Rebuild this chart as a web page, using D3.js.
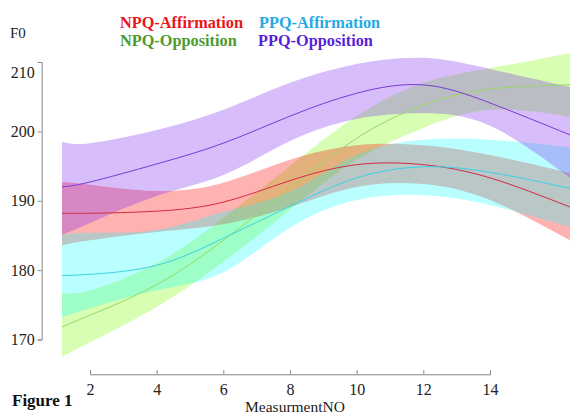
<!DOCTYPE html>
<html lang="en">
<head>
  <meta charset="UTF-8">
  <title>F0 by MeasurmentNO</title>
  <script src="https://d3js.org/d3.v7.min.js"></script>
  <style>
    body { margin: 0; background: #fff; }
    text { font-family: "Liberation Serif", "DejaVu Serif", serif; }
  </style>
</head>
<body>
  <svg id="chart" width="570" height="416"></svg>

  <script>
    const measurementNo = [1.16, 2, 4, 6, 8, 10, 12, 14, 16.4];

    const npqAffFit   = [188.2, 188.2, 188.5, 189.8, 192.9, 195.2, 195.2, 193.3, 189.1];
    const npqAffUpper = [192.7, 192.3, 191.4, 192.6, 195.9, 198.0, 198.0, 196.6, 194.0];
    const npqAffLower = [183.6, 184.3, 185.5, 186.6, 189.1, 192.0, 192.4, 190.1, 184.3];

    const ppqAffFit   = [179.2, 179.4, 180.7, 184.6, 189.2, 193.3, 194.9, 194.1, 191.8];
    const ppqAffUpper = [185.1, 185.4, 185.8, 188.4, 191.3, 196.6, 198.8, 198.8, 197.7];
    const ppqAffLower = [173.2, 174.5, 177.1, 179.7, 186.1, 190.1, 190.8, 189.4, 186.2];

    const npqOppFit   = [171.8, 173.5, 177.9, 184.3, 191.8, 199.0, 203.8, 206.1, 206.7];
    const npqOppUpper = [176.7, 177.1, 181.0, 187.5, 195.0, 202.2, 207.0, 209.1, 211.3];
    const npqOppLower = [167.5, 169.6, 174.7, 181.2, 188.7, 195.9, 200.5, 203.1, 202.1];

    const ppqOppFit   = [192.0, 192.7, 195.3, 198.3, 202.2, 205.5, 206.7, 204.1, 199.5];
    const ppqOppUpper = [198.5, 198.3, 200.2, 203.1, 207.0, 209.7, 210.6, 209.0, 206.4];
    const ppqOppLower = [185.1, 186.8, 190.7, 193.7, 198.6, 201.8, 202.6, 200.8, 193.3];

    const xTicks = [2, 4, 6, 8, 10, 12, 14];
    const yTicks = [170, 180, 190, 200, 210];

    const svg = d3.select("#chart");

    const x = d3.scaleLinear().domain([2, 14]).range([90, 490]);
    const y = d3.scaleLinear().domain([170, 210]).range([339.5, 62]);

    // drawing order matters for the overlap colours
    const series = [
      { name: "NPQ-Opposition",  fit: npqOppFit, upper: npqOppUpper, lower: npqOppLower,
        band: "#7cfc00", bandOp: 0.3, line: "#96d865", text: "#4d9a2e" },
      { name: "NPQ-Affirmation", fit: npqAffFit, upper: npqAffUpper, lower: npqAffLower,
        band: "#ff0000", bandOp: 0.3, line: "#d42a40", text: "#e8151b" },
      { name: "PPQ-Affirmation", fit: ppqAffFit, upper: ppqAffUpper, lower: ppqAffLower,
        band: "#00ffff", bandOp: 0.27, line: "#3fd0e2", text: "#27a9e1" },
      { name: "PPQ-Opposition",  fit: ppqOppFit, upper: ppqOppUpper, lower: ppqOppLower,
        band: "#7a27ee", bandOp: 0.3, line: "#7a3ad6", text: "#5a1fd8" }
    ];

    const area = d3.area()
      .x(d => x(d.x))
      .y0(d => y(d.lo))
      .y1(d => y(d.hi))
      .curve(d3.curveNatural);

    const line = d3.line()
      .x(d => x(d.x))
      .y(d => y(d.v))
      .curve(d3.curveNatural);

    series.forEach(s => {
      const pts = measurementNo.map((m, i) => ({ x: m, lo: s.lower[i], hi: s.upper[i], v: s.fit[i] }));
      svg.append("path")
        .attr("d", area(pts))
        .attr("fill", s.band)
        .attr("fill-opacity", s.bandOp);
    });

    series.forEach(s => {
      const pts = measurementNo.map((m, i) => ({ x: m, v: s.fit[i] }));
      svg.append("path")
        .attr("d", line(pts))
        .attr("fill", "none")
        .attr("stroke", s.line)
        .attr("stroke-width", 1);
    });

    // axes
    const yAxis = svg.append("g")
      .attr("transform", "translate(41.7,0)")
      .call(d3.axisLeft(y).tickValues(yTicks).tickSize(4).tickPadding(3));

    const xAxis = svg.append("g")
      .attr("transform", "translate(0,374.3)")
      .call(d3.axisBottom(x).tickValues(xTicks).tickSize(-4).tickPadding(9));

    [yAxis, xAxis].forEach(g => {
      g.select(".domain").attr("stroke", "#888");
      g.selectAll(".tick line").attr("stroke", "#888");
      g.selectAll(".tick text")
        .attr("fill", "#222")
        .style("font-family", "'Liberation Serif', serif")
        .style("font-size", "16px");
    });
    // top label sits a little below its tick in the original
    yAxis.selectAll(".tick text").filter(d => d === 210).attr("y", 10);

    svg.append("text")
      .attr("x", 10).attr("y", 38)
      .attr("font-size", 15).attr("fill", "#222")
      .text("F0");

    svg.append("text")
      .attr("x", 295).attr("y", 412)
      .attr("text-anchor", "middle")
      .attr("font-size", 15.5).attr("fill", "#222")
      .text("MeasurmentNO");

    svg.append("text")
      .attr("x", 12).attr("y", 406)
      .attr("font-size", 17).attr("font-weight", "bold").attr("fill", "#111")
      .text("Figure 1");

    // legend, two columns
    const legendPos = {
      "NPQ-Affirmation": [120, 28],
      "PPQ-Affirmation": [259, 28],
      "NPQ-Opposition":  [120, 46],
      "PPQ-Opposition":  [258, 46]
    };
    series.forEach(s => {
      const p = legendPos[s.name];
      svg.append("text")
        .attr("x", p[0]).attr("y", p[1])
        .attr("font-size", 16.3).attr("font-weight", "bold")
        .attr("fill", s.text)
        .text(s.name);
    });
  </script>
</body>
</html>
